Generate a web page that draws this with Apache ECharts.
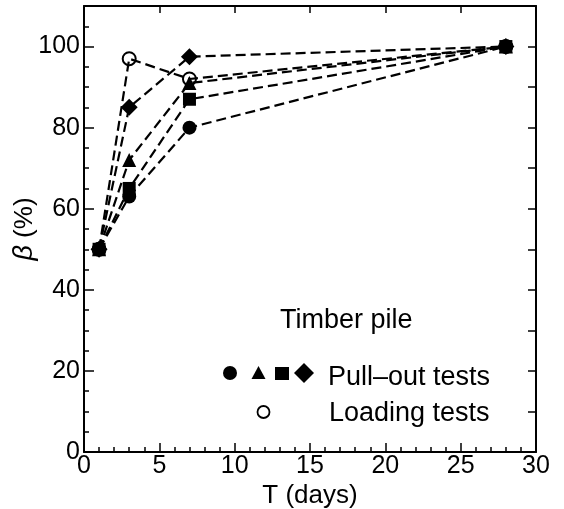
<!DOCTYPE html>
<html>
<head>
<meta charset="utf-8">
<script src="https://cdn.jsdelivr.net/npm/echarts@6/dist/echarts.min.js"></script>
<style>
  html, body { margin: 0; padding: 0; background: #fff; }
  #chart { width: 564px; height: 509px; }
</style>
</head>
<body>
<div id="chart"></div>
<script>
// curing time, days
var days = [1, 3, 7, 28];
// beta (%) per test type
var pullCircle = [50, 63, 80, 100];
var pullTriangle = [50, 72, 91, 100];
var pullSquare = [50, 65, 87, 100];
var pullDiamond = [50, 85, 97.5, 100];
var loading = [50, 97, 92, 100];

function pairs(ys) {
    return days.map(function (d, i) { return [d, ys[i]]; });
}

var font = 'Liberation Sans, Arial, sans-serif';
var dashed = { color: '#000', width: 2.2, type: [10, 5] };
var axisLine = { onZero: false, lineStyle: { color: '#000', width: 2 } };

function series(name, ys, symbol, size, hollow) {
    return {
        name: name,
        type: 'line',
        data: pairs(ys),
        symbol: symbol,
        symbolSize: size,
        lineStyle: dashed,
        itemStyle: hollow
            ? { color: 'rgba(0,0,0,0)', borderColor: '#000', borderWidth: 2 }
            : { color: '#000', borderWidth: 0 },
        z: hollow ? 3 : 2,
        animation: false
    };
}

var chart = echarts.init(document.getElementById('chart'));
chart.setOption({
    backgroundColor: '#fff',
    animation: false,
    grid: { left: 84, right: 28, top: 6, bottom: 57, containLabel: false, outerBoundsMode: 'none' },
    xAxis: [{
        type: 'value', min: 0, max: 30, interval: 5,
        name: 'T (days)', nameLocation: 'middle', nameGap: 31, nameMoveOverlap: false,
        nameTextStyle: { fontFamily: font, fontSize: 26, color: '#000' },
        axisLine: axisLine,
        axisTick: { inside: true, length: 9, lineStyle: { color: '#000', width: 1.5 } },
        minorTick: { show: true, splitNumber: 5, length: 5, lineStyle: { color: '#000', width: 1.5 } },
        axisLabel: { fontFamily: font, fontSize: 25, color: '#000', margin: 2 },
        splitLine: { show: false }
    }, {
        type: 'value', min: 0, max: 30, interval: 5, position: 'top',
        axisLine: axisLine,
        axisTick: { inside: true, length: 7, lineStyle: { color: '#000', width: 1.5 } },
        axisLabel: { show: false },
        splitLine: { show: false }
    }],
    yAxis: [{
        type: 'value', min: 0, max: 110, interval: 20,
        name: '{b|β} (%)', nameLocation: 'middle', nameGap: 46, nameRotate: 90, nameMoveOverlap: false,
        nameTextStyle: {
            fontFamily: font, fontSize: 26, color: '#000',
            rich: { b: { fontFamily: font, fontSize: 27, fontStyle: 'italic', color: '#000' } }
        },
        axisLine: axisLine,
        axisTick: { inside: true, length: 10, lineStyle: { color: '#000', width: 1.5 } },
        minorTick: { show: true, splitNumber: 4, length: 5, lineStyle: { color: '#000', width: 1.5 } },
        axisLabel: {
            fontFamily: font, fontSize: 25, color: '#000', margin: 4,
            showMaxLabel: false
        },
        splitLine: { show: false }
    }, {
        type: 'value', min: 0, max: 110, interval: 10, position: 'right',
        axisLine: axisLine,
        axisTick: { inside: true, length: 8, lineStyle: { color: '#000', width: 1.5 } },
        axisLabel: { show: false },
        splitLine: { show: false }
    }],
    graphic: [
        { type: 'text', x: 280, y: 321, style: { text: 'Timber pile', font: '27px ' + font, fill: '#000', verticalAlign: 'middle' } },
        { type: 'circle', shape: { cx: 230, cy: 373, r: 7 }, style: { fill: '#000' } },
        { type: 'polygon', shape: { points: [[258.5, 366], [265.5, 379], [251.5, 379]] }, style: { fill: '#000' } },
        { type: 'rect', shape: { x: 275, y: 367, width: 14, height: 13 }, style: { fill: '#000' } },
        { type: 'polygon', shape: { points: [[304, 363], [314, 373], [304, 383], [294, 373]] }, style: { fill: '#000' } },
        { type: 'text', x: 328, y: 378, style: { text: 'Pull\u2013out tests', font: '27px ' + font, fill: '#000', verticalAlign: 'middle' } },
        { type: 'circle', shape: { cx: 263.5, cy: 412, r: 6 }, style: { fill: 'none', stroke: '#000', lineWidth: 1.8 } },
        { type: 'text', x: 329, y: 414, style: { text: 'Loading tests', font: '27px ' + font, fill: '#000', verticalAlign: 'middle' } }
    ],
    series: [
        series('loading', loading, 'circle', 13, true),
        series('circle', pullCircle, 'circle', 14, false),
        series('triangle', pullTriangle, 'triangle', 14, false),
        series('square', pullSquare, 'rect', 13, false),
        series('diamond', pullDiamond, 'diamond', 17, false)
    ]
});
</script>
</body>
</html>
